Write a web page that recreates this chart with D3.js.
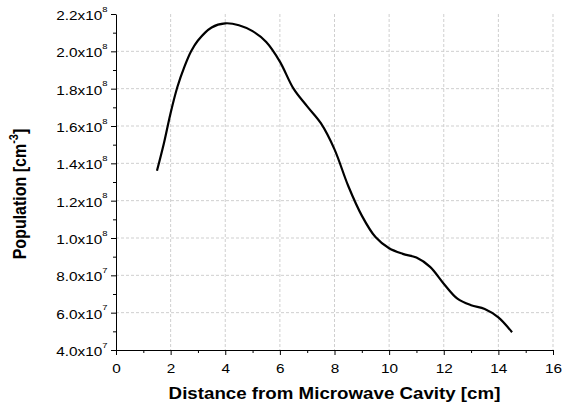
<!DOCTYPE html>
<html>
<head>
<meta charset="utf-8">
<script src="https://cdn.jsdelivr.net/npm/d3@7"></script>
<style>
  body { margin: 0; background: #fff; }
  svg { font-family: "Liberation Sans", Arial, sans-serif; }
</style>
</head>
<body>
<svg id="chart"></svg>
<script>
// distance [cm] and population [cm^-3]
const distance = [1.5, 1.75, 2, 2.25, 2.5, 2.75, 3, 3.5, 4, 4.5, 5, 5.5, 6, 6.5, 7, 7.5, 8, 8.5, 9, 9.5, 10, 10.5, 11, 11.5, 12, 12.5, 13, 13.5, 14, 14.5];
const population = [1.36e8, 1.505e8, 1.67e8, 1.81e8, 1.915e8, 2.0e8, 2.058e8, 2.128e8, 2.15e8, 2.14e8, 2.108e8, 2.05e8, 1.945e8, 1.80e8, 1.705e8, 1.615e8, 1.475e8, 1.28e8, 1.12e8, 1.005e8, 0.945e8, 0.915e8, 0.895e8, 0.845e8, 0.755e8, 0.675e8, 0.64e8, 0.62e8, 0.575e8, 0.495e8];
const xTicks = [0, 2, 4, 6, 8, 10, 12, 14, 16];
const yTicks = [4e7, 6e7, 8e7, 1e8, 1.2e8, 1.4e8, 1.6e8, 1.8e8, 2e8, 2.2e8];

const W = 562, H = 404;
const mLeft = 116, mRight = 553, mTop = 14, mBottom = 350;
const stretch = 1.18; // the fonts in the picture are a bit wide

const svg = d3.select('#chart').attr('width', W).attr('height', H);

const x = d3.scaleLinear().domain([0, 16]).range([mLeft, mRight]);
const y = d3.scaleLinear().domain([4e7, 2.2e8]).range([mBottom, mTop]);

// grid
svg.append('g').selectAll('line')
  .data(xTicks.slice(1))
  .join('line')
    .attr('x1', d => x(d)).attr('x2', d => x(d))
    .attr('y1', mTop).attr('y2', mBottom)
    .attr('stroke', '#cfcfcf').attr('stroke-dasharray', '3,2');
svg.append('g').selectAll('line')
  .data(yTicks.slice(1, -1))
  .join('line')
    .attr('x1', mLeft).attr('x2', mRight)
    .attr('y1', d => y(d)).attr('y2', d => y(d))
    .attr('stroke', '#cfcfcf').attr('stroke-dasharray', '3,2');

// minor ticks
const xMinor = d3.range(1, 16, 2);
const yMinor = d3.range(5e7, 2.2e8, 2e7);
svg.append('g')
  .attr('transform', `translate(0,${mBottom})`)
  .call(d3.axisBottom(x).tickValues(xMinor).tickSize(3).tickFormat(''))
  .call(g => g.select('.domain').remove());
svg.append('g')
  .attr('transform', `translate(${mLeft},0)`)
  .call(d3.axisLeft(y).tickValues(yMinor).tickSize(3).tickFormat(''))
  .call(g => g.select('.domain').remove());

// major axes
const xAxis = svg.append('g')
  .attr('transform', `translate(0,${mBottom})`)
  .call(d3.axisBottom(x).tickValues(xTicks).tickSize(5).tickSizeOuter(0));
xAxis.selectAll('text')
  .attr('font-size', 13).attr('fill', '#000')
  .attr('font-family', '"Liberation Sans", Arial, sans-serif')
  .attr('y', 0).attr('dy', 0)
  .attr('transform', `translate(0,22.5) scale(${stretch},1)`);

const yAxis = svg.append('g')
  .attr('transform', `translate(${mLeft},0)`)
  .call(d3.axisLeft(y).tickValues(yTicks).tickSize(5).tickSizeOuter(0).tickFormat(''));
yAxis.selectAll('.tick').each(function(d) {
  const e = Math.floor(Math.log10(d) + 1e-9);
  const m = (d / Math.pow(10, e)).toFixed(1);
  const t = d3.select(this).select('text')
    .attr('font-size', 13).attr('fill', '#000')
    .attr('font-family', '"Liberation Sans", Arial, sans-serif')
    .attr('x', 0).attr('dy', 0)
    .attr('transform', `translate(-8.5,5.5) scale(${stretch},1)`);
  t.append('tspan').text(m + 'x10');
  t.append('tspan').attr('font-size', 8).attr('dy', -8.5).text(e);
});
svg.selectAll('.domain').attr('stroke', '#000');
svg.selectAll('.tick line').attr('stroke', '#000');

// curve
const line = d3.line()
  .x((d, i) => x(distance[i]))
  .y(d => y(d))
  .curve(d3.curveCatmullRom.alpha(0.5));
svg.append('path')
  .datum(population)
  .attr('d', line)
  .attr('fill', 'none')
  .attr('stroke', '#000')
  .attr('stroke-width', 2.2);

// titles
svg.append('text')
  .attr('transform', `translate(${(mLeft + mRight) / 2},399) scale(1.17,1)`)
  .attr('text-anchor', 'middle')
  .attr('font-size', 16).attr('font-weight', 'bold')
  .text('Distance from Microwave Cavity [cm]');

const yt = svg.append('text')
  .attr('transform', `translate(26,194) rotate(-90) scale(1,1.17)`)
  .attr('text-anchor', 'middle')
  .attr('font-size', 16).attr('font-weight', 'bold');
yt.append('tspan').text('Population [cm');
yt.append('tspan').attr('font-size', 11).attr('dy', '-0.6em').text('-3');
yt.append('tspan').attr('dy', '0.4em').text(']');
</script>
</body>
</html>
